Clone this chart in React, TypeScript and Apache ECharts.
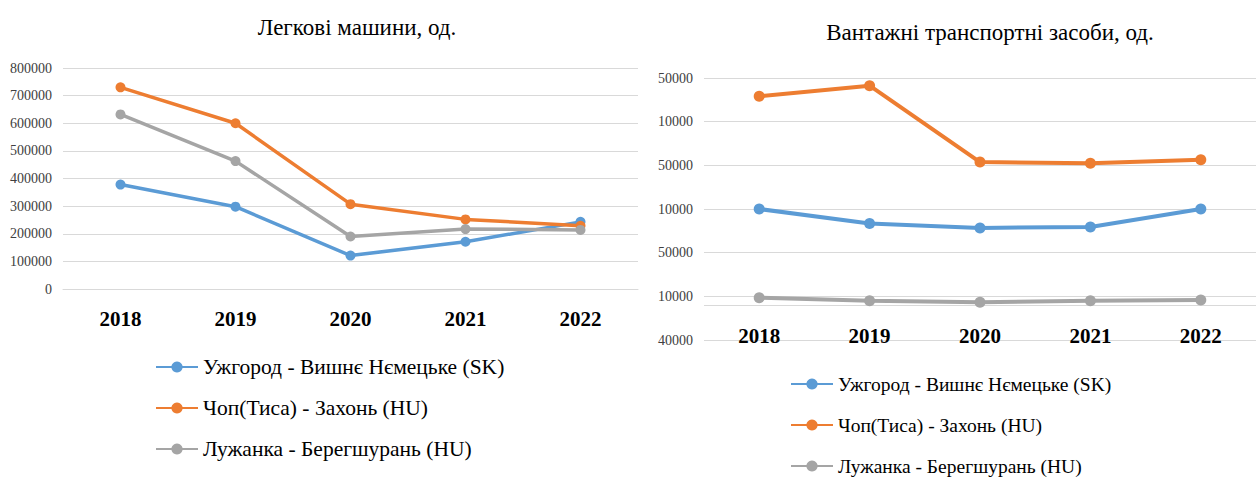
import React, { useEffect, useRef } from "react";
import * as echarts from "echarts";

const categories = ["2018", "2019", "2020", "2021", "2022"];
const seriesNames = [
  "Ужгород - Вишнє Нємецьке (SK)",
  "Чоп(Тиса) - Захонь (HU)",
  "Лужанка - Берегшурань (HU)",
];
const colors = ["#5B9BD5", "#ED7D31", "#A5A5A5"];

const carsUzhhorod = [378000, 298000, 121000, 171000, 243000];
const carsChop = [730000, 600000, 307000, 252000, 229000];
const carsLuzhanka = [632000, 463000, 190000, 217000, 214000];

const trucksUzhhorod = [110000, 93300, 88300, 89500, 110000];
const trucksChop = [239000, 251200, 163700, 162500, 166400];
const trucksLuzhanka = [8400, 5000, 3200, 5000, 5800];

const leftTitle = "Легкові машини, од.";
const rightTitle = "Вантажні транспортні засоби, од.";

const rightTickValues = [-40000, 10000, 60000, 110000, 160000, 210000, 260000];
const rightTickLabels = ["40000", "10000", "50000", "10000", "50000", "10000", "50000"];

const serif = "Times New Roman";

export default function App() {
  const ref = useRef<HTMLDivElement>(null);
  useEffect(() => {
    document.body.style.margin = "0";
    const chart = echarts.init(ref.current!, null, { renderer: "svg" });
    const carsData = [carsUzhhorod, carsChop, carsLuzhanka];
    const trucksData = [trucksUzhhorod, trucksChop, trucksLuzhanka];
    const series: any[] = [];
    carsData.forEach((d, i) => {
      series.push({
        name: seriesNames[i],
        type: "line",
        xAxisIndex: 0,
        yAxisIndex: 0,
        data: d,
        symbol: "circle",
        symbolSize: 10,
        lineStyle: { width: 3.5, color: colors[i] },
        itemStyle: { color: colors[i] },
      });
    });
    trucksData.forEach((d, i) => {
      const s: any = {
        name: seriesNames[i],
        type: "line",
        xAxisIndex: 1,
        yAxisIndex: 1,
        data: d,
        symbol: "circle",
        symbolSize: 11,
        lineStyle: { width: 4, color: colors[i] },
        itemStyle: { color: colors[i] },
      };
      if (i === 0) {
        s.markLine = {
          silent: true,
          symbol: "none",
          label: { show: false },
          lineStyle: { color: "#d9d9d9", type: "solid", width: 1 },
          data: [{ yAxis: 0 }],
          z: 1,
        };
      }
      series.push(s);
    });
    const legendBase = {
      type: "plain",
      orient: "vertical",
      data: seriesNames,
      itemWidth: 42,
      itemHeight: 14,
      itemGap: 19,
      height: 220,
      padding: 0,
    };
    chart.setOption({
      animation: false,
      backgroundColor: "#fff",
      color: colors,
      textStyle: { fontFamily: serif },
      title: [
        {
          text: leftTitle,
          left: 352,
          top: 11,
          textAlign: "center",
          textStyle: { fontFamily: serif, fontSize: 23, fontWeight: "normal", color: "#000" },
        },
        {
          text: rightTitle,
          left: 985,
          top: 16,
          textAlign: "center",
          textStyle: { fontFamily: serif, fontSize: 23, fontWeight: "normal", color: "#000" },
        },
      ],
      legend: [
        {
          ...legendBase,
          left: 155,
          top: 356,
          textStyle: { fontFamily: serif, color: "#000", fontSize: 21.5, lineHeight: 22 },
        },
        {
          ...legendBase,
          left: 790,
          top: 373,
          textStyle: { fontFamily: serif, color: "#000", fontSize: 19.5, lineHeight: 22 },
        },
      ],
      grid: [
        { left: 63, top: 68, width: 575, height: 221 },
        { left: 704, top: 78, width: 560, height: 262 },
      ],
      xAxis: [
        {
          type: "category",
          gridIndex: 0,
          data: categories,
          boundaryGap: true,
          axisLine: { show: true, onZero: false, lineStyle: { color: "#d9d9d9", width: 1 } },
          axisTick: { show: false },
          axisLabel: { margin: 19, fontFamily: serif, fontSize: 21, fontWeight: "bold", color: "#000" },
        },
        {
          type: "category",
          gridIndex: 1,
          data: categories,
          boundaryGap: true,
          axisLine: { show: false, onZero: false },
          axisTick: { show: false },
          axisLabel: { margin: -15, fontFamily: serif, fontSize: 21, fontWeight: "bold", color: "#000" },
        },
      ],
      yAxis: [
        {
          type: "value",
          gridIndex: 0,
          min: 0,
          max: 800000,
          interval: 100000,
          axisLine: { show: false },
          axisTick: { show: false },
          splitLine: { lineStyle: { color: "#d9d9d9", width: 1 } },
          axisLabel: {
            margin: 11,
            fontFamily: serif,
            fontSize: 14,
            color: "#404040",
            formatter: (v: number) => String(v),
          },
        },
        {
          type: "value",
          gridIndex: 1,
          min: -40000,
          max: 260000,
          axisLine: { show: false },
          axisTick: { show: false, customValues: rightTickValues },
          splitLine: { lineStyle: { color: "#d9d9d9", width: 1 } },
          axisLabel: {
            margin: 11,
            fontFamily: serif,
            fontSize: 14,
            color: "#404040",
            customValues: rightTickValues,
            formatter: (v: number) => {
              const idx = rightTickValues.indexOf(v);
              return idx >= 0 ? rightTickLabels[idx] : "";
            },
          },
        },
      ],
      series,
    });
    return () => chart.dispose();
  }, []);
  return <div ref={ref} style={{ width: 1256, height: 478, background: "#fff" }} />;
}
